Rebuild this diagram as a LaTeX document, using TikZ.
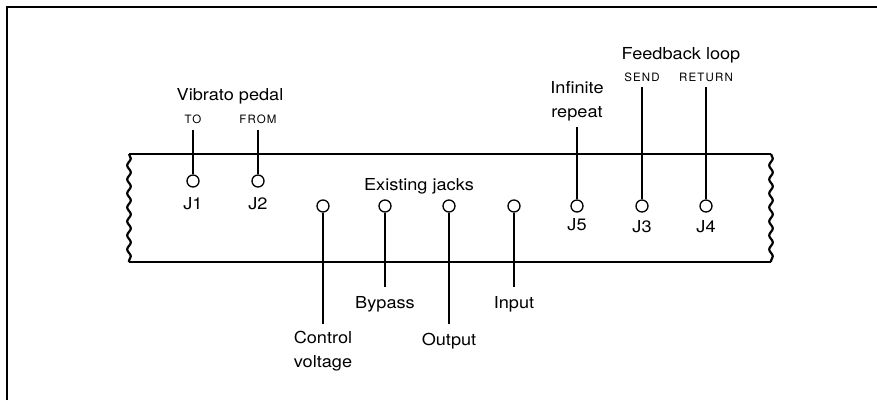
\documentclass[tikz,border=0pt]{standalone}
\usepackage{fontspec}
\setmainfont{TeX Gyre Heros}[FakeStretch=1.1]
\newfontfamily\capsfont{TeX Gyre Heros}[LetterSpace=10]
\usetikzlibrary{decorations.pathmorphing}
\begin{document}
\begin{tikzpicture}[x=1pt,y=-1pt,
  lbl/.style={anchor=base,inner sep=0pt,font=\fontsize{16.5}{18}\selectfont},
  sml/.style={anchor=base,inner sep=0pt,font=\capsfont\fontsize{11.5}{13}\selectfont},
  jack/.style={circle,draw,line width=1.3pt,minimum size=12pt,inner sep=0pt},
  lead/.style={line width=1.8pt},
  panel/.style={line width=1.3pt},
  wavy/.style={line width=2.2pt,decorate,decoration={snake,segment length=14pt,amplitude=1.8pt}}]
\useasboundingbox (0,0) rectangle (877,400);
\fill[white] (0,0) rectangle (877,400);
% outer frame
\draw[line width=1.3pt] (7,400) -- (7,7) -- (877,7);
% panel
\coordinate (pTL) at (129,154);
\coordinate (pTR) at (771,154);
\coordinate (pBL) at (129,262);
\coordinate (pBR) at (771,262);
\draw[panel] (pTL) -- (pTR);
\draw[panel] (pBL) -- (pBR);
\draw[wavy] (pTL) -- (pBL);
\draw[wavy] (pTR) -- (pBR);
% jacks
\node[jack] (j1) at (193,181) {};
\node[jack] (j2) at (258,181) {};
\node[jack] (cv) at (323,206) {};
\node[jack] (bp) at (385,206) {};
\node[jack] (op) at (449,206) {};
\node[jack] (ip) at (514,206) {};
\node[jack] (j5) at (577,206) {};
\node[jack] (j3) at (642,206) {};
\node[jack] (j4) at (706,206) {};
% lead ends
\coordinate (e1) at (193,130);
\coordinate (e2) at (258,130);
\coordinate (ecv) at (323,324);
\coordinate (ebp) at (385,287);
\coordinate (eop) at (449,324);
\coordinate (eip) at (514,287);
\coordinate (e5) at (577,127);
\coordinate (e3) at (642,87);
\coordinate (e4) at (706,87);
\draw[lead] (j1.north) -- (e1);
\draw[lead] (j2.north) -- (e2);
\draw[lead] (cv.south) -- (ecv);
\draw[lead] (bp.south) -- (ebp);
\draw[lead] (op.south) -- (eop);
\draw[lead,line width=2.6pt] (ip.south) -- (eip);
\draw[lead] (j5.north) -- (e5);
\draw[lead] (j3.north) -- (e3);
\draw[lead] (j4.north) -- (e4);
% labels
\node[lbl] (tvib) at (230,100) {Vibrato pedal};
\node[sml] (tto) at (193,123) {TO};
\node[sml] (tfrom) at (258,123) {FROM};
\node[lbl] (tj1) at (193,209) {J1};
\node[lbl] (tj2) at (258,209) {J2};
\node[lbl] (tex) at (419,190) {Existing jacks};
\node[lbl] (tcon) at (323,343) {Control};
\node[lbl] (tvol) at (323,367) {voltage};
\node[lbl] (tbyp) at (385,308) {Bypass};
\node[lbl] (tout) at (449,345) {Output};
\node[lbl] (tin) at (514,308) {Input};
\node[lbl] (tinf) at (577,93) {Infinite};
\node[lbl] (trep) at (577,117) {repeat};
\node[lbl] (tfb) at (681,59) {Feedback loop};
\node[sml] (tsend) at (642,81) {SEND};
\node[sml] (tret) at (706,81) {RETURN};
\node[lbl] (tj5) at (577,230) {J5};
\node[lbl] (tj3) at (642,232) {J3};
\node[lbl] (tj4) at (706,232) {J4};
\end{tikzpicture}
\end{document}
